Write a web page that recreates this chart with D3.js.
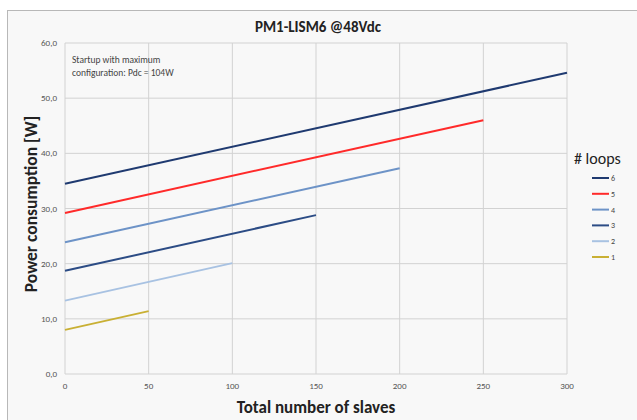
<!DOCTYPE html>
<html><head><meta charset="utf-8">
<script src="https://cdn.jsdelivr.net/npm/d3@7"></script>
<style>body{margin:0;background:#fff;}svg{display:block;font-family:Calibri,"Carlito","Liberation Sans","Open Sans",sans-serif;}</style>
</head><body>
<svg id="c" width="637" height="420"></svg>
<script>
const loops = ["6","5","4","3","2","1"];
const slavesMax = [300, 250, 200, 150, 100, 50];
const startValues = [34.5, 29.2, 23.9, 18.7, 13.3, 8.0];
const endValues = [54.6, 46.0, 37.3, 28.8, 20.1, 11.4];
const colors = ["#1f3a70", "#ff2a2a", "#6d93c7", "#2c4c85", "#a8c2e2", "#c9b034"];
const xTicks = [0, 50, 100, 150, 200, 250, 300];
const yTicks = [0, 10, 20, 30, 40, 50, 60];

const svg = d3.select("#c");
svg.append("rect").attr("x",7.5).attr("y",10.5).attr("width",640).attr("height",420)
  .attr("fill","#f8f8f8").attr("stroke","#b8b8b8");

const x = d3.scaleLinear().domain([0,300]).range([65,567]);
const y = d3.scaleLinear().domain([0,60]).range([374,43]);

const g = svg.append("g");
g.selectAll("line.v").data(xTicks).join("line")
  .attr("x1",d=>x(d)).attr("x2",d=>x(d)).attr("y1",y(0)).attr("y2",y(60))
  .attr("stroke","#d2d2d2").attr("stroke-width",1);
g.selectAll("line.h").data(yTicks).join("line")
  .attr("x1",x(0)).attr("x2",x(300)).attr("y1",d=>y(d)).attr("y2",d=>y(d))
  .attr("stroke","#d2d2d2").attr("stroke-width",1);

const fmt = d => d.toFixed(1).replace(".", ",");
g.selectAll("text.yt").data(yTicks).join("text")
  .attr("x",57).attr("y",d=>y(d)+3).attr("text-anchor","end")
  .attr("font-size",9).attr("fill","#555").text(fmt);
g.selectAll("text.xt").data(xTicks).join("text")
  .attr("x",d=>x(d)).attr("y",389).attr("text-anchor","middle")
  .attr("font-size",9).attr("fill","#555").text(d=>d);

const line = d3.line().x(d=>x(d[0])).y(d=>y(d[1]));
loops.forEach((l,i)=>{
  g.append("path").datum([[0,startValues[i]],[slavesMax[i],endValues[i]]])
   .attr("d",line).attr("fill","none").attr("stroke",colors[i]).attr("stroke-width",2);
});

svg.append("text").attr("x",318).attr("y",32).attr("text-anchor","middle")
  .attr("font-size",15).attr("font-weight","bold").attr("fill","#222").text("PM1-LISM6 @48Vdc");
svg.append("text").attr("x",316).attr("y",413).attr("text-anchor","middle")
  .attr("font-size",17).attr("font-weight","bold").attr("fill","#222").text("Total number of slaves");
svg.append("text").attr("transform","translate(37,204) rotate(-90)").attr("text-anchor","middle")
  .attr("font-size",17.5).attr("font-weight","bold").attr("fill","#222").text("Power consumption [W]");

const ann = svg.append("text").attr("font-size",9.5).attr("fill","#444");
ann.append("tspan").attr("x",72).attr("y",63).text("Startup with maximum");
ann.append("tspan").attr("x",72).attr("y",76).text("configuration: Pdc = 104W");

svg.append("text").attr("x",574).attr("y",164).attr("font-size",16).attr("fill","#222").text("# loops");
const lg = svg.selectAll("g.lg").data(loops).join("g")
  .attr("transform",(d,i)=>`translate(592,${178+i*15.8})`);
lg.append("line").attr("x1",0).attr("x2",17).attr("stroke",(d,i)=>colors[i]).attr("stroke-width",2);
lg.append("text").attr("x",19).attr("y",3).attr("font-size",8).attr("fill","#444").text(d=>d);
</script>
</body></html>
